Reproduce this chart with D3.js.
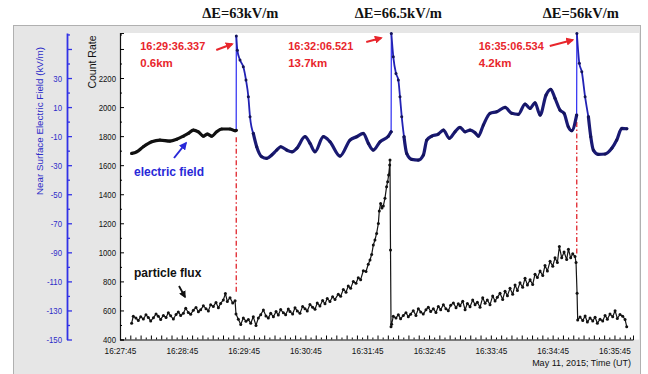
<!DOCTYPE html>
<html>
<head>
<meta charset="utf-8">
<script src="https://cdn.jsdelivr.net/npm/d3@7"></script>
<style>
  body { margin: 0; background: #fff; }
  text { font-family: "Liberation Sans", Arial, sans-serif; }
</style>
</head>
<body>
<svg id="fig" width="648" height="374"></svg>
<script>
// time is seconds after 16:27:45 UT
const xTickLabels = ["16:27:45", "16:28:45", "16:29:45", "16:30:45", "16:31:45",
                     "16:32:45", "16:33:45", "16:34:45", "16:35:45"];
const countTickLabels = [400, 600, 800, 1000, 1200, 1400, 1600, 1800, 2000, 2200];
const efieldTickLabels = [-150, -130, -110, -90, -70, -50, -30, -10, 10, 30];

// near surface electric field, [t, kV/m]
const efieldSeries = [
  [11.4, -21.9], [16.2, -20.8], [22.6, -17.3], [30.8, -13.9], [38.8, -12.7], [48.5, -13.4],
  [55.0, -12.2], [61.5, -10.0], [66.3, -8.1], [71.2, -5.8], [76.0, -7.0], [80.9, -10.0],
  [84.8, -8.6], [89.0, -10.0], [93.9, -7.0], [98.7, -5.1], [106.8, -5.1], [111.7, -6.3],
  [112.8, -6.0], [112.9, 58.9], [113.9, 49.2], [116.5, 42.4], [119.7, 37.7], [122.3, 28.6],
  [124.6, 17.1], [126.2, 3.3], [129.4, -8.1], [132.7, -17.3], [137.6, -24.2], [142.4, -25.3],
  [147.3, -23.0], [152.1, -19.6], [156.0, -17.3], [161.8, -19.6], [167.0, -20.8], [171.6, -18.4],
  [179.6, -10.4], [184.5, -15.0], [189.3, -20.8], [197.4, -10.4], [203.9, -13.9], [213.6, -23.7],
  [223.3, -12.7], [229.8, -10.4], [236.2, -8.1], [241.1, -15.0], [245.9, -19.6], [252.4, -13.9],
  [260.5, -10.0], [263.2, -7.0], [263.4, 60.7], [265.3, 44.6], [267.9, 33.2], [270.2, 28.6],
  [271.8, 17.1], [273.5, 3.3], [275.7, -10.4], [278.3, -21.9], [283.2, -26.0], [289.6, -26.5],
  [294.5, -23.0], [297.8, -12.7], [302.6, -10.0], [309.0, -8.6], [313.9, -5.8], [319.7, -11.5],
  [325.2, -7.0], [330.1, -4.0], [335.0, -7.0], [339.8, -5.8], [344.7, -7.7], [347.9, -10.0],
  [352.7, -2.4], [359.2, 5.7], [365.7, 6.8], [373.8, 9.8], [380.3, 5.7], [386.7, 5.0],
  [393.2, 12.1], [398.1, 9.1], [402.9, 13.0], [407.8, 4.5], [413.6, 18.3], [418.2, 22.2],
  [422.3, 16.0], [427.2, 7.9], [431.1, 5.7], [435.2, -3.6], [438.5, -6.3], [443.3, 4.5],
  [443.5, 60.7], [445.9, 40.1], [448.3, 34.3], [451.5, 17.1], [454.7, 3.3], [457.0, -10.4],
  [459.5, -19.6], [464.4, -22.5], [470.9, -22.3], [477.4, -18.4], [482.2, -12.7], [487.1, -4.7],
  [492.0, -4.9]
];

// particle flux, [t, count rate]
const fluxSeries = [
  [11.3, 512], [12.9, 560], [15.5, 548], [17.8, 531], [20.1, 557], [22.7, 541], [25.2, 570],
  [27.5, 552], [29.8, 528], [32.4, 549], [35.0, 576], [37.2, 560], [39.5, 538], [42.1, 566],
  [44.7, 551], [46.9, 584], [49.2, 563], [51.8, 541], [54.4, 572], [56.6, 590], [58.9, 566],
  [61.5, 580], [63.8, 615], [66.3, 586], [68.6, 573], [71.2, 602], [73.8, 620], [76.1, 591],
  [78.3, 604], [80.9, 632], [83.5, 612], [85.8, 597], [88.0, 640], [90.6, 628], [93.2, 655],
  [95.5, 619], [97.7, 648], [100.3, 672], [102.3, 716], [104.2, 662], [106.8, 688], [109.4, 651],
  [111.7, 666], [112.6, 575], [114.9, 540], [117.2, 503], [119.7, 548], [122.3, 526], [124.6, 537],
  [126.9, 512], [129.4, 556], [132.0, 497], [134.3, 548], [136.6, 571], [139.2, 603], [141.7, 562],
  [144.0, 548], [146.3, 580], [148.9, 557], [151.5, 592], [153.7, 568], [156.0, 606], [158.6, 584],
  [160.8, 571], [163.4, 610], [165.0, 592], [167.6, 575], [169.9, 618], [172.1, 597], [174.7, 580],
  [177.3, 628], [179.6, 612], [181.8, 596], [184.4, 641], [187.0, 622], [189.3, 608], [191.5, 652],
  [194.1, 630], [196.7, 668], [199.0, 646], [201.2, 682], [203.8, 662], [206.4, 694], [208.7, 676],
  [211.9, 712], [214.2, 698], [216.8, 745], [219.4, 726], [221.6, 768], [223.9, 752], [226.5, 800],
  [229.1, 787], [231.3, 825], [233.6, 812], [236.2, 873], [238.8, 868], [241.0, 918], [242.7, 947],
  [244.3, 985], [245.9, 1050], [247.5, 1085], [249.1, 1130], [250.8, 1198], [251.7, 1285],
  [253.0, 1337], [254.3, 1306], [255.6, 1319], [257.2, 1372], [258.8, 1452], [259.8, 1486],
  [260.8, 1532], [261.8, 1601], [262.1, 1635], [262.6, 1016], [263.1, 488], [263.7, 505],
  [265.3, 560], [267.9, 548], [270.2, 571], [272.4, 542], [275.0, 566], [277.6, 585], [279.9, 557],
  [282.1, 574], [284.7, 598], [287.3, 566], [289.6, 612], [291.9, 590], [294.4, 575], [297.0, 604],
  [299.3, 622], [301.6, 593], [304.2, 611], [306.7, 586], [309.0, 628], [311.3, 605], [313.9, 640],
  [316.4, 612], [318.7, 598], [321.0, 636], [323.6, 652], [326.2, 618], [328.4, 646], [330.1, 632],
  [332.7, 664], [335.0, 605], [337.2, 648], [339.8, 626], [342.4, 672], [344.7, 640], [346.9, 657],
  [349.5, 622], [352.1, 688], [354.4, 650], [356.6, 672], [359.2, 640], [361.8, 700], [364.1, 665],
  [366.3, 690], [368.9, 718], [371.5, 676], [373.8, 733], [376.1, 702], [378.6, 752], [381.2, 712],
  [383.5, 775], [385.8, 738], [388.3, 790], [390.9, 760], [393.2, 822], [395.5, 776], [398.1, 812],
  [400.6, 778], [402.9, 850], [405.2, 826], [407.8, 872], [410.4, 840], [412.6, 910], [414.9, 872],
  [417.5, 938], [420.1, 905], [422.3, 962], [424.6, 930], [426.5, 1040], [428.8, 962], [431.1, 1002],
  [433.6, 950], [435.3, 1022], [437.5, 962], [439.5, 990], [441.7, 972], [442.7, 930], [443.7, 718],
  [444.3, 534], [446.6, 555], [449.2, 530], [451.5, 562], [453.7, 520], [456.3, 548], [458.9, 528],
  [461.2, 553], [463.4, 512], [466.0, 540], [468.6, 528], [470.9, 566], [473.1, 540], [475.7, 575],
  [478.3, 556], [480.6, 598], [482.8, 545], [485.4, 572], [488.0, 560], [490.3, 538], [491.9, 488]
];

// lightning events
const spikeTimes = [112.85, 263.3, 443.4];
const spikeClock = ["16:29:36.337", "16:32:06.521", "16:35:06.534"];
const spikeDist = ["0.6km", "13.7km", "4.2km"];
const spikeDeltaE = ["\u0394E=63kV/m", "\u0394E=66.5kV/m", "\u0394E=56kV/m"];
const dashedSpikes = [0, 2];

function squeeze(sel, k) {
  sel.each(function () {
    const w = this.getComputedTextLength();
    d3.select(this).attr("textLength", w * k).attr("lengthAdjust", "spacingAndGlyphs");
  });
}

const svg = d3.select("#fig");
const L = 120, R = 633, T = 33, B = 339.5;

const x = d3.scaleLinear().domain([0, 498]).range([L, R]);
const yC = d3.scaleLinear().domain([400, 2510]).range([B, T]);
const yE = d3.scaleLinear().domain([-150, 61]).range([B, T]);

// panel and plot area
svg.append("rect").attr("x", 13.5).attr("y", 25.5).attr("width", 627).attr("height", 360)
   .attr("fill", "#e6e6e6").attr("stroke", "#b0b0b0");
svg.append("rect").attr("x", L).attr("y", T).attr("width", 519).attr("height", B - T)
   .attr("fill", "#fff");

// x axis
const xg = svg.append("g").attr("transform", `translate(0,${B})`)
  .call(d3.axisBottom(x).tickValues(d3.range(0, 496, 5))
    .tickSizeInner(-2).tickSizeOuter(-4).tickPadding(8)
    .tickFormat(d => d % 60 === 0 ? xTickLabels[d / 60] : ""));
xg.selectAll(".tick line").filter(d => d % 10 === 0).attr("y2", -4);
xg.selectAll("text").attr("font-size", 9.5).attr("fill", "#111").call(squeeze, 0.86);
xg.select(".domain").attr("stroke", "#111");
svg.append("text").attr("x", 631).attr("y", 366).attr("text-anchor", "end")
   .attr("font-size", 9).attr("fill", "#111").text("May 11, 2015; Time (UT)");

// count rate axis
const cg = svg.append("g").attr("transform", `translate(${L},0)`)
  .call(d3.axisLeft(yC).tickValues(d3.range(400, 2501, 100))
    .tickSizeInner(-2).tickSizeOuter(-4).tickPadding(4)
    .tickFormat(d => countTickLabels.includes(d) ? d : ""));
cg.selectAll(".tick line").filter(d => d % 200 === 0).attr("x2", 4);
cg.selectAll("text").attr("font-size", 9.5).attr("fill", "#111").call(squeeze, 0.82);
cg.select(".domain").attr("stroke", "#111").attr("stroke-width", 1.2);
svg.append("text").attr("transform", "translate(96,62) rotate(-90)").attr("text-anchor", "middle")
   .attr("font-size", 10.5).attr("fill", "#111").text("Count Rate");

// electric field axis
const blue = "#3232e6";
const eg = svg.append("g").attr("transform", "translate(67,0)")
  .call(d3.axisLeft(yE).tickValues(d3.range(-150, 61, 10))
    .tickSizeInner(-3).tickSizeOuter(0).tickPadding(5)
    .tickFormat(d => efieldTickLabels.includes(d) ? d : ""));
eg.selectAll(".tick line").attr("stroke", blue).attr("stroke-width", 1.3)
  .filter(d => (d + 150) % 20 === 0).attr("x2", 5);
eg.selectAll("text").attr("font-size", 9.5).attr("fill", "#2c2cc8").call(squeeze, 0.82);
eg.select(".domain").attr("stroke", blue).attr("stroke-width", 1.8);
svg.append("text").attr("transform", "translate(43,121) rotate(-90)").attr("text-anchor", "middle")
   .attr("font-size", 9.8).attr("fill", "#2c2cc8").text("Near Surface Electric Field (kV/m)");

// red dash-dot markers at the strikes
const fluxAt = t => fluxSeries.filter(p => p[0] <= t - 0.5).pop()[1];
const efAt = t => efieldSeries.filter(p => p[0] <= t).pop()[1];
dashedSpikes.forEach(i => {
  const t = spikeTimes[i];
  svg.append("line").attr("x1", x(t)).attr("x2", x(t))
     .attr("y1", yE(efAt(t)) + 7).attr("y2", yC(fluxAt(t)) - 9)
     .attr("stroke", "#e0242c").attr("stroke-width", 1.3)
     .attr("stroke-dasharray", "5,2.5,1.5,2.5");
});

// particle flux
svg.append("path").attr("d", d3.line().x(d => x(d[0])).y(d => yC(d[1]))(fluxSeries))
   .attr("fill", "none").attr("stroke", "#151515").attr("stroke-width", 1.2)
   .attr("stroke-linejoin", "round");
svg.append("g").selectAll("circle").data(fluxSeries).join("circle")
   .attr("cx", d => x(d[0])).attr("cy", d => yC(d[1])).attr("r", 1.5).attr("fill", "#111");

// electric field: split into steady parts, jumps and decays
const pieces = [];
let cur = [efieldSeries[0]], mode = "base", footV = 0;
for (let i = 1; i < efieldSeries.length; i++) {
  const q = efieldSeries[i - 1], p = efieldSeries[i];
  if ((p[1] - q[1]) / (p[0] - q[0]) > 20) {
    pieces.push({ pts: cur, mode });
    pieces.push({ pts: [q, p], mode: "jump" });
    cur = [p]; mode = "decay"; footV = q[1];
    continue;
  }
  cur.push(p);
  if (mode === "decay" && p[1] <= footV) {
    pieces.push({ pts: cur, mode });
    cur = [p]; mode = "base";
  }
}
pieces.push({ pts: cur, mode });

const efLine = d3.line().x(d => x(d[0])).y(d => yE(d[1])).curve(d3.curveMonotoneX);
const efg = svg.append("g").attr("fill", "none").attr("stroke-linecap", "round").attr("stroke-linejoin", "round");
pieces.forEach(pc => {
  let col = "#1a1a74", w = 3.2;
  if (pc.mode === "jump") { col = "#2a2af2"; w = 1.2; }
  else if (pc.mode === "decay") { col = "#2222b4"; w = 1.8; }
  else if (pc.pts[pc.pts.length - 1][0] <= spikeTimes[0]) { col = "#111"; }
  efg.append("path").attr("d", pc.mode === "jump" ? d3.line().x(d => x(d[0])).y(d => yE(d[1]))(pc.pts) : efLine(pc.pts))
     .attr("stroke", col).attr("stroke-width", w);
});
efg.selectAll("circle").data(efieldSeries).join("circle")
   .attr("cx", d => x(d[0])).attr("cy", d => yE(d[1])).attr("r", 1.5).attr("stroke", "none")
   .attr("fill", d => d[0] < spikeTimes[0] ? "#111" : "#14145a");

// annotations
const defs = svg.append("defs");
[["redHead", "#e8262c"], ["blueHead", "#2828d8"], ["blackHead", "#111"]].forEach(([id, c]) => {
  defs.append("marker").attr("id", id).attr("viewBox", "0 0 10 10").attr("refX", 8).attr("refY", 5)
    .attr("markerWidth", 4).attr("markerHeight", 4).attr("orient", "auto")
    .append("path").attr("d", "M0,0L10,5L0,10z").attr("fill", c);
});

const labelDx = [-96, -103, -98];
const arrowFrom = [[-20, 50], [-25, 42], [-27, 46]];
const arrowTo = [[-4, 44], [-10, 38], [-4, 40]];
const deltaDx = [4, 7, 4];
spikeTimes.forEach((t, i) => {
  const sx = x(t);
  svg.append("text").attr("x", sx + deltaDx[i]).attr("y", 18).attr("text-anchor", "middle")
     .style("font-family", "'Liberation Serif', 'Times New Roman', serif")
     .attr("font-weight", "bold").attr("font-size", 14.5).attr("fill", "#111").text(spikeDeltaE[i]);
  const g = svg.append("g").attr("fill", "#e8262c").attr("font-weight", "bold").attr("font-size", 11.5);
  g.append("text").attr("x", sx + labelDx[i]).attr("y", 50).text(spikeClock[i]).call(squeeze, 0.95);
  g.append("text").attr("x", sx + labelDx[i]).attr("y", 67).text(spikeDist[i]);
  svg.append("line").attr("x1", sx + arrowFrom[i][0]).attr("y1", arrowFrom[i][1])
     .attr("x2", sx + arrowTo[i][0]).attr("y2", arrowTo[i][1])
     .attr("stroke", "#e8262c").attr("stroke-width", 2).attr("marker-end", "url(#redHead)");
});

svg.append("text").attr("x", 134).attr("y", 176).attr("font-size", 12).attr("font-weight", "bold")
   .attr("fill", "#2828d8").text("electric field");
svg.append("line").attr("x1", 174).attr("y1", 158).attr("x2", 186).attr("y2", 143)
   .attr("stroke", "#2828d8").attr("stroke-width", 2).attr("marker-end", "url(#blueHead)");
svg.append("text").attr("x", 134).attr("y", 277).attr("font-size", 12).attr("font-weight", "bold")
   .attr("fill", "#111").text("particle flux");
svg.append("line").attr("x1", 179).attr("y1", 286).attr("x2", 185).attr("y2", 297)
   .attr("stroke", "#111").attr("stroke-width", 1.8).attr("marker-end", "url(#blackHead)");
</script>
</body>
</html>
